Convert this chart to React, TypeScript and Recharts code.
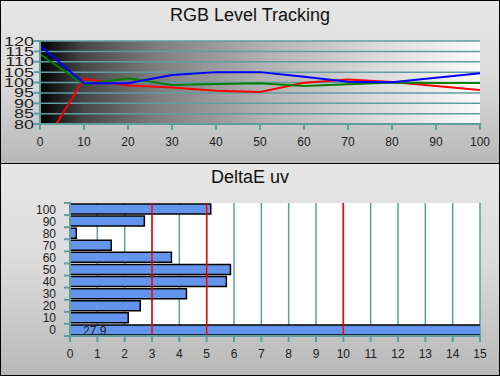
import React from 'react';
import { LineChart, Line, BarChart, Bar, XAxis, YAxis, CartesianGrid, ReferenceLine, LabelList } from 'recharts';

const levels = [0, 10, 20, 30, 40, 50, 60, 70, 80, 90, 100];
const redLevel = [67, 101.8, 98.6, 97.6, 96, 95.4, 99.9, 101.4, 100.2, 98.3, 96.4];
const greenLevel = [113.6, 99, 102, 98.8, 99.3, 99.6, 98.3, 99.1, 100, 99.8, 99.8];
const blueLevel = [117.7, 99.6, 99.6, 103.6, 105, 105, 102.8, 100.4, 100.1, 102.3, 104.4];
const deltaE = [27.9, 2.13, 2.57, 4.26, 5.72, 5.87, 3.71, 1.51, 0.23, 2.72, 5.15];

const levelTicks = [80, 85, 90, 95, 100, 105, 110, 115, 120];
const rowTicks = [-5, 0, 5, 10, 15, 20, 25, 30, 35, 40, 45, 50, 55, 60, 65, 70, 75, 80, 85, 90, 95, 100, 105];
const deltaTicks = [0, 1, 2, 3, 4, 5, 6, 7, 8, 9, 10, 11, 12, 13, 14, 15];
const limits = [3, 5, 10];

const rgbData = levels.map((l, i) => ({ level: l, r: redLevel[i], g: greenLevel[i], b: blueLevel[i] }));
const deltaData = levels.map((l, i) => ({ level: l, de: deltaE[i] }));

const FONT = '"Liberation Sans", Arial, sans-serif';
const TEAL = '#5f9ea0';

const panel: React.CSSProperties = {
  position: 'absolute', left: 0, width: 500, boxSizing: 'border-box', border: '1px solid #000',
  background: 'linear-gradient(to bottom, #e6e6e6 0%, #dcdcdc 45%, #b8b8b8 100%)',
};
const title: React.CSSProperties = {
  position: 'absolute', left: 0, width: '100%', textAlign: 'center', fontFamily: FONT, fontSize: 18, color: '#111',
};

// y labels of the top chart are drawn wide and flat, as in the original
const LevelYTick = (p: any) => (
  <g>
    <line x1={p.x - 4} x2={p.x + 3} y1={p.y} y2={p.y} stroke={TEAL} strokeWidth={2} />
    <text transform={`translate(${p.x - 4},${p.y + 4.5}) scale(1.5,1)`} textAnchor="end" fontSize={12} fill="#222" fontFamily={FONT}>
      {p.payload.value}
    </text>
  </g>
);

const CrossXTick = (p: any) => (
  <g>
    <line x1={p.x} x2={p.x} y1={p.y - 3} y2={p.y + 4} stroke={TEAL} strokeWidth={2} />
    <text x={p.x} y={p.y + 20} textAnchor="middle" fontSize={12} fill="#222" fontFamily={FONT}>
      {p.payload.value}
    </text>
  </g>
);

// odd ticks mark the row edges, even ticks carry the labels
const RowTick = (p: any) => {
  const v = p.payload.value;
  if (v % 10 !== 0) {
    return <line x1={p.x - 4} x2={p.x + 3} y1={p.y} y2={p.y} stroke={TEAL} strokeWidth={2} />;
  }
  return (
    <text x={p.x - 12} y={p.y + 4.5} textAnchor="end" fontSize={12} fill="#222" fontFamily={FONT}>
      {v}
    </text>
  );
};

const OverflowLabel = (p: any) => {
  if (Number(p.value) <= 15) return null;
  return (
    <text x={p.x + 13} y={p.y + p.height / 2 + 5} fontSize={12} fill="#222" fontFamily={FONT}>
      {p.value}
    </text>
  );
};

export default function App() {
  return (
    <div style={{ position: 'absolute', left: 0, top: 0, width: 500, height: 376, background: '#fff' }}>
      <div style={{ ...panel, top: 0, height: 164 }}>
        <div style={{ ...title, top: 4 }}>RGB Level Tracking</div>
      </div>
      <div style={{ ...panel, top: 163, height: 213 }}>
        <div style={{ ...title, top: 3 }}>DeltaE uv</div>
      </div>

      <div style={{ position: 'absolute', left: 0, top: 0 }}>
        <LineChart width={500} height={163} data={rgbData} margin={{ top: 41, right: 20, left: 0, bottom: 9 }}>
          <defs>
            <linearGradient id="bw" x1="0" y1="0" x2="1" y2="0">
              <stop offset="0%" stopColor="#000" />
              <stop offset="10%" stopColor="#474747" />
              <stop offset="25%" stopColor="#7a7a7a" />
              <stop offset="50%" stopColor="#b0b0b0" />
              <stop offset="75%" stopColor="#d8d8d8" />
              <stop offset="100%" stopColor="#fbfbfb" />
            </linearGradient>
          </defs>
          <CartesianGrid vertical={false} stroke={TEAL} strokeWidth={1.5} fill="url(#bw)" fillOpacity={1} />
          <XAxis dataKey="level" type="number" domain={[0, 100]} ticks={levels} interval={0} height={30}
            axisLine={{ stroke: TEAL, strokeWidth: 2 }} tickLine={false} tickSize={0} tick={<CrossXTick />} />
          <YAxis type="number" domain={[80, 120]} allowDataOverflow ticks={levelTicks} interval={0} width={40}
            axisLine={{ stroke: TEAL, strokeWidth: 2 }} tickLine={false} tickSize={0} tick={<LevelYTick />} />
          <Line type="linear" dataKey="r" stroke="#ff0000" strokeWidth={2} dot={false} isAnimationActive={false} />
          <Line type="linear" dataKey="g" stroke="#008000" strokeWidth={2} dot={false} isAnimationActive={false} />
          <Line type="linear" dataKey="b" stroke="#0000ff" strokeWidth={2} dot={false} isAnimationActive={false} />
        </LineChart>
      </div>

      <div style={{ position: 'absolute', left: 0, top: 163 }}>
        <BarChart width={500} height={213} data={deltaData} layout="vertical" margin={{ top: 40, right: 20, left: 0, bottom: 10 }}>
          <CartesianGrid horizontal={false} stroke={TEAL} strokeWidth={1.5} fill="#fff" fillOpacity={1} />
          <XAxis type="number" domain={[0, 15]} allowDataOverflow ticks={deltaTicks} interval={0} height={30}
            axisLine={{ stroke: TEAL, strokeWidth: 2 }} tickLine={false} tickSize={0} tick={<CrossXTick />} />
          <YAxis type="number" dataKey="level" domain={[-5, 105]} reversed ticks={rowTicks} interval={0} width={70}
            axisLine={{ stroke: TEAL, strokeWidth: 2 }} tickLine={false} tickSize={0} tick={<RowTick />} />
          {limits.map((v) => (
            <ReferenceLine key={v} x={v} stroke="#ff0000" strokeWidth={1.5} />
          ))}
          <Bar dataKey="de" fill="#6495ed" stroke="#000" strokeWidth={1.5} barSize={10} isAnimationActive={false}>
            <LabelList dataKey="de" content={<OverflowLabel />} />
          </Bar>
        </BarChart>
      </div>
    </div>
  );
}
